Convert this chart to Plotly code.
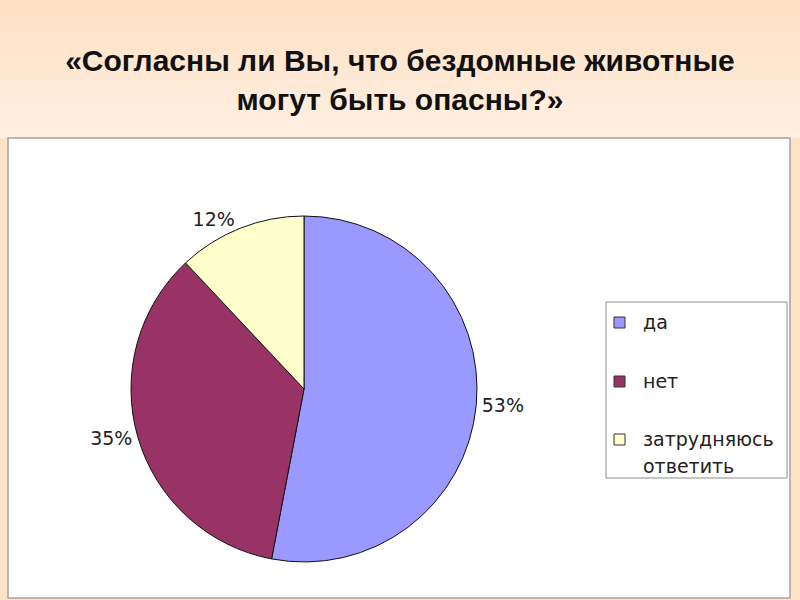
import plotly.graph_objects as go

# ---- data ----
categories = ["да", "нет", "затрудняюсь ответить"]
values = [53, 35, 12]
colors = ["#9999FF", "#993366", "#FFFFCC"]
title_text = "«Согласны ли Вы, что бездомные животные<br>могут быть опасны?»"

W, H = 800, 600


def px(x):
    return x / W


def py(y):
    return 1 - y / H


fig = go.Figure()

R = 173
CX, CY = 304, 389
fig.add_trace(go.Pie(
    labels=categories,
    values=values,
    marker=dict(colors=colors, line=dict(color="#111111", width=1)),
    sort=False,
    direction="clockwise",
    rotation=0,
    textinfo="percent",
    texttemplate="%{percent:.0%}",
    textposition="outside",
    textfont=dict(family="DejaVu Sans", size=19, color="#222222"),
    showlegend=False,
    domain=dict(x=[px(CX - R), px(CX + R)], y=[py(CY + R), py(CY - R)]),
    hoverinfo="label+percent",
))

shapes = []
# background gradient (top band)
top = (255, 223, 195)
mid = (255, 240, 226)
n = 28
for i in range(n):
    t = i / (n - 1)
    c = tuple(int(round(top[k] + (mid[k] - top[k]) * t)) for k in range(3))
    y0 = i * 138 / n
    y1 = min(138, (i + 1) * 138 / n + 1)
    shapes.append(dict(type="rect", xref="paper", yref="paper", layer="below",
                       x0=0, x1=1, y0=py(y1), y1=py(y0),
                       fillcolor="rgb(%d,%d,%d)" % c, line=dict(width=0)))
# white chart area
shapes.append(dict(type="rect", xref="paper", yref="paper", layer="below",
                   x0=px(8), x1=px(790), y0=py(598), y1=py(138),
                   fillcolor="white", line=dict(color="#A8A0A0", width=1.5)))
# legend box
shapes.append(dict(type="rect", xref="paper", yref="paper", layer="above",
                   x0=px(606), x1=px(787), y0=py(478), y1=py(302),
                   fillcolor="rgba(0,0,0,0)", line=dict(color="#8C8C8C", width=1)))

annotations = []
legend_rows = [322, 381, 439]
for cat, col, yc in zip(categories, colors, legend_rows):
    shapes.append(dict(type="rect", xref="paper", yref="paper", layer="above",
                       x0=px(614), x1=px(625), y0=py(yc + 6), y1=py(yc - 5),
                       fillcolor=col, line=dict(color="#333333", width=1)))
    parts = cat.split(" ")
    for j, part in enumerate(parts):
        annotations.append(dict(xref="paper", yref="paper", x=px(641), y=py(yc + j * 27),
                                xanchor="left", yanchor="middle", showarrow=False,
                                text=part,
                                font=dict(family="DejaVu Sans", size=19, color="#222222")))

fig.update_layout(
    width=W, height=H,
    margin=dict(l=0, r=0, t=0, b=0),
    paper_bgcolor="rgb(255,226,202)",
    plot_bgcolor="white",
    shapes=shapes,
    annotations=annotations,
    title=dict(text=title_text, x=0.5, xanchor="center", y=py(71), yanchor="middle",
               font=dict(family="Liberation Sans", size=30, color="#111111", weight="bold")),
)

fig.write_html("out.html", config={"displayModeBar": False},
               post_script="document.body.style.margin='0';document.body.style.padding='0';")
